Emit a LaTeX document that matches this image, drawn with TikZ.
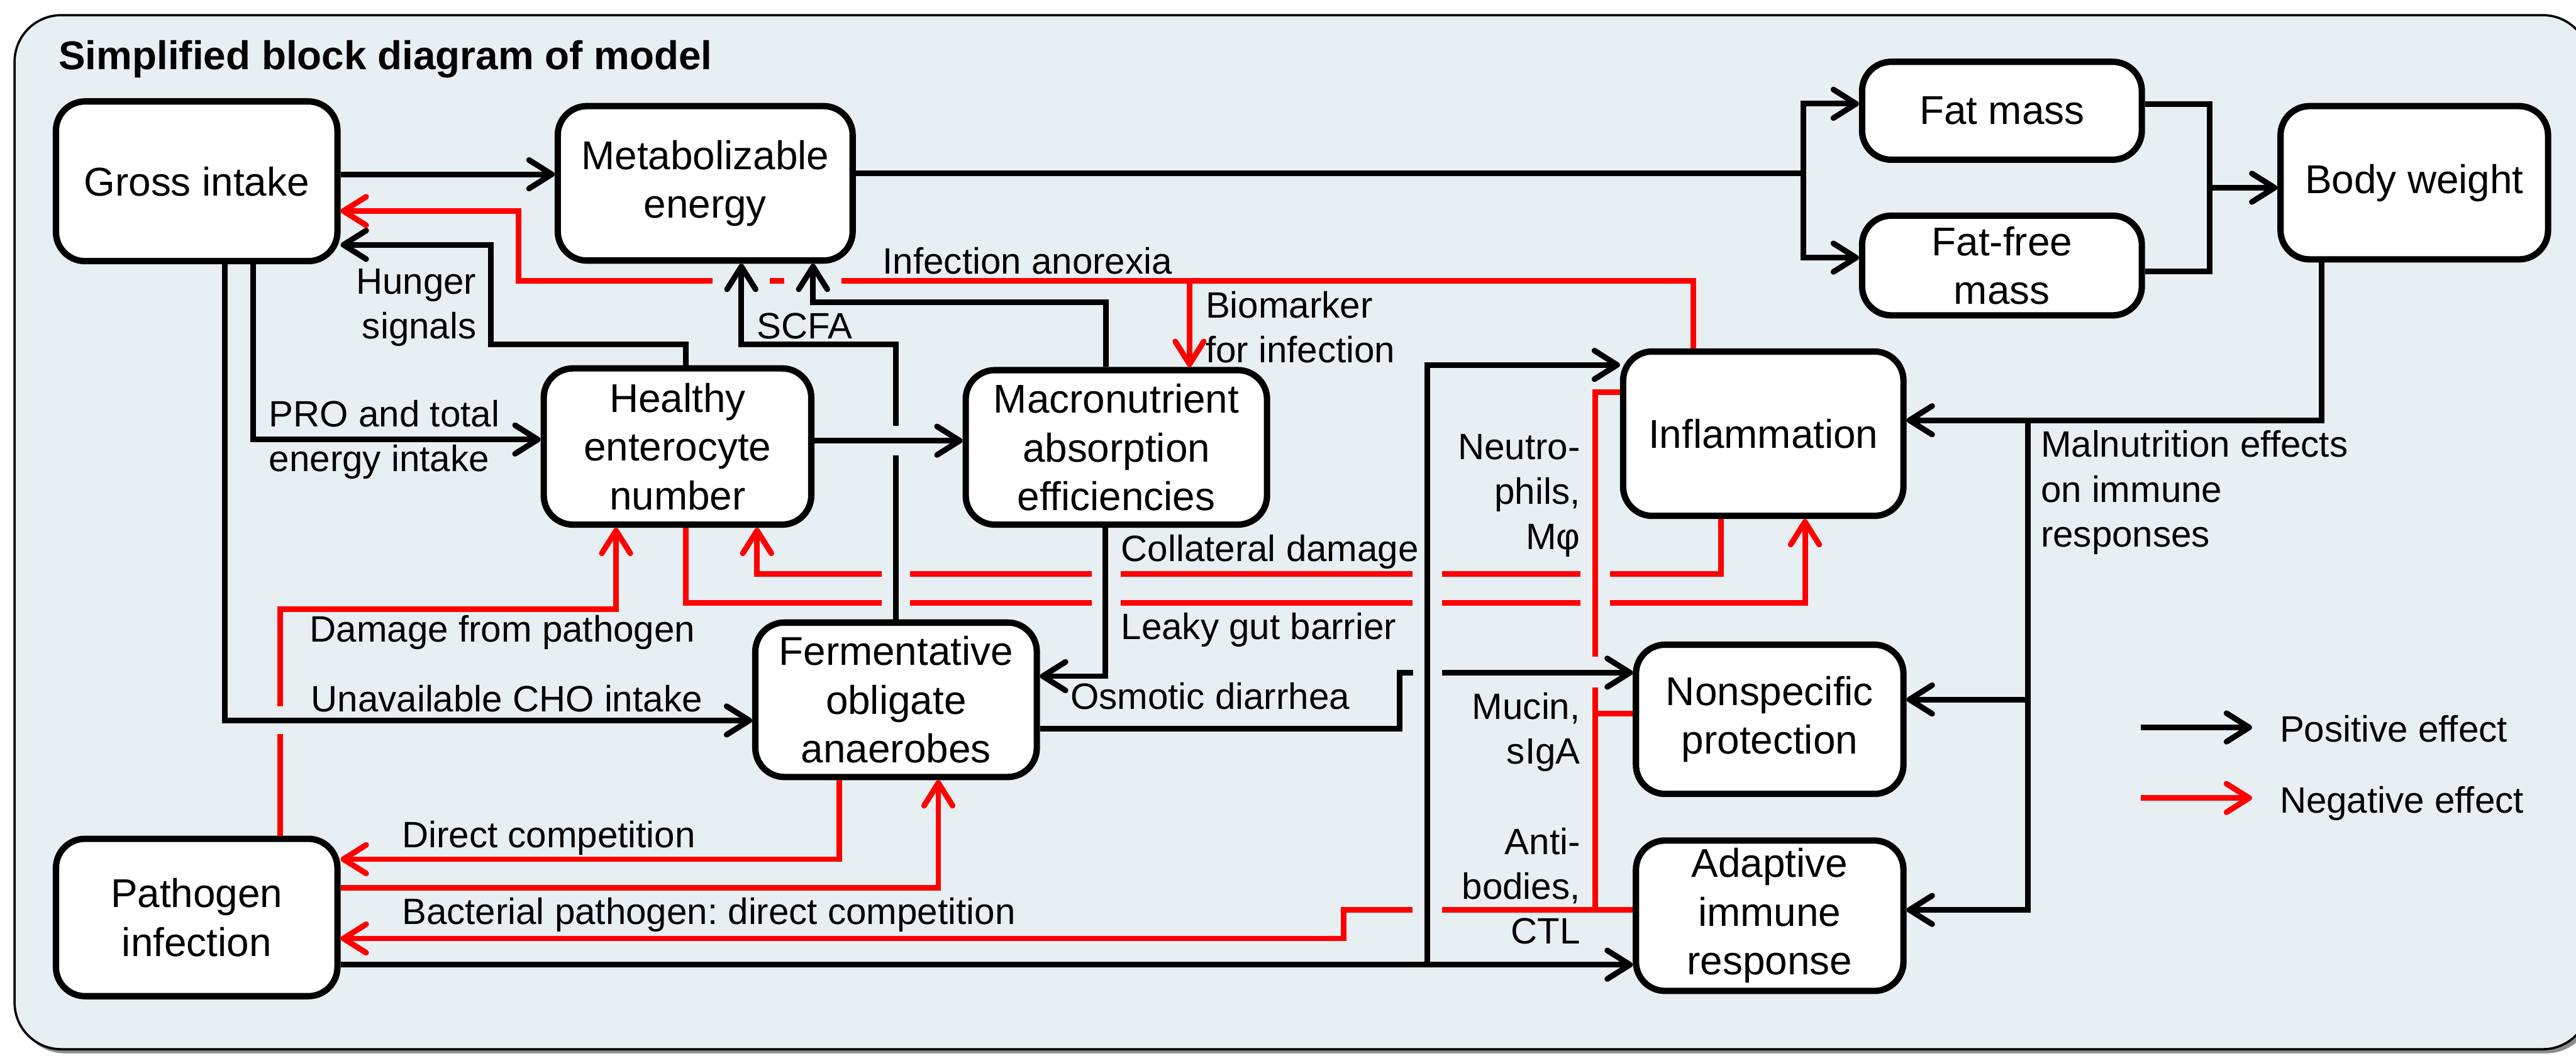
\documentclass[tikz,border=0pt]{standalone}
\usepackage{fontspec}
\setmainfont{Liberation Sans}
\usetikzlibrary{arrows.meta,positioning,calc}
\definecolor{PanelFill}{HTML}{E7EFF2}
\definecolor{NegRed}{HTML}{FF0000}
\frenchspacing

\begin{document}
\begin{tikzpicture}[x=1cm,y=-1cm,
  block/.style={draw,line width=3.1pt,rounded corners=5mm,fill=white,align=center,
    inner sep=0pt,font=\fontsize{19.6}{23.8}\selectfont},
  lbl/.style={inner sep=0pt,font=\fontsize{17.9}{21.9}\selectfont},
  posline/.style={line width=2.75pt},
  posarrow/.style={posline,-{Straight Barb[length=3.9mm,width=4.9mm,round]}},
  negline/.style={posline,NegRed},
  negarrow/.style={posarrow,NegRed}]
  \useasboundingbox (0,0) rectangle (44.20,18.23);

  % panel
  \fill[black!45,rounded corners=8mm] (0.31,0.33) rectangle (44.49,18.07);
  \draw[fill=PanelFill,line width=1.1pt,rounded corners=8mm] (0.25,0.26) rectangle (44.43,18.00);
  \node[anchor=base west,inner sep=0pt,font=\bfseries\fontsize{19.6}{23.8}\selectfont] (title)
    at (1.00,1.19) {Simplified block diagram of model};

  % blocks
  \node[block,minimum width=4.83cm,minimum height=2.74cm] (gross) at (3.375,3.11) {Gross intake};
  \node[block,minimum width=5.06cm,minimum height=2.65cm] (metab) at (12.10,3.145) {Metabolizable\\energy};
  \node[block,minimum width=4.80cm,minimum height=1.68cm] (fat) at (34.35,1.90) {Fat mass};
  \node[block,minimum width=4.80cm,minimum height=1.71cm] (fatfree) at (34.35,4.555) {Fat-free\\mass};
  \node[block,minimum width=4.59cm,minimum height=2.63cm] (body) at (41.425,3.135) {Body weight};
  \node[block,minimum width=4.59cm,minimum height=2.68cm] (healthy) at (11.625,7.66) {Healthy\\enterocyte\\number};
  \node[block,minimum width=5.17cm,minimum height=2.65cm] (macro) at (19.155,7.675) {Macronutrient\\absorption\\efficiencies};
  \node[block,minimum width=4.83cm,minimum height=2.65cm] (ferm) at (15.375,12.005) {Fermentative\\obligate\\anaerobes};
  \node[block,minimum width=4.83cm,minimum height=2.70cm] (path) at (3.375,15.74) {Pathogen\\infection};
  \node[block,minimum width=4.81cm,minimum height=2.82cm] (infl) at (30.255,7.44) {Inflammation};
  \node[block,minimum width=4.59cm,minimum height=2.56cm] (nonspec) at (30.365,12.34) {Nonspecific\\protection};
  \node[block,minimum width=4.59cm,minimum height=2.58cm] (adapt) at (30.365,15.71) {Adaptive\\immune\\response};

  % branch points
  \coordinate (split) at (30.94,2.97);
  \coordinate (merge) at (37.91,3.22);
  \coordinate (immbus) at (34.80,7.21);
  \coordinate (pbranch) at (24.49,16.55);
  \coordinate (biomark) at (20.41,4.82);

  % positive effects
  \draw[posarrow] (gross.east |- 0,2.99) -- (metab.west |- 0,2.99);
  \draw[posarrow] (metab.east |- split) -- (split) |- (fat.west |- 0,1.78);
  \draw[posarrow] (split) |- (fatfree.west |- 0,4.42);
  \draw[posline] (fat.east |- 0,1.79) -| (merge);
  \draw[posline] (fatfree.east |- 0,4.66) -| (merge);
  \draw[posarrow] (merge) -- (body.west |- merge);
  \draw[posarrow] (body.south -| 39.83,0) |- (infl.east |- immbus);
  \draw[posarrow] (immbus) |- (nonspec.east |- 0,12.00);
  \draw[posarrow] (immbus) |- (adapt.east |- 0,15.61);
  \draw[posarrow] (healthy.north -| 11.77,0) |- (8.42,5.91) |- (gross.east |- 0,4.20);
  \draw[posarrow] (ferm.north -| 15.37,0) -- (15.37,7.81) (15.37,7.31) |- (12.72,5.91)
    -- (metab.south -| 12.72,0);
  \draw[posarrow] (macro.north -| 18.98,0) |- (13.95,5.18) -- (metab.south -| 13.95,0);
  \draw[posarrow] (healthy.east |- 0,7.56) -- (macro.west |- 0,7.56);
  \draw[posarrow] (gross.south -| 4.34,0) |- (healthy.west |- 0,7.54);
  \draw[posarrow] (gross.south -| 3.86,0) |- (ferm.west |- 0,12.36);
  \draw[posarrow] (macro.south -| 18.97,0) |- (ferm.east |- 0,11.60);
  \draw[posarrow] (ferm.east |- 0,12.50) -| (24.01,11.54) -- (24.25,11.54)
    (24.74,11.54) -- (nonspec.west |- 0,11.54);
  \draw[posarrow] (path.east |- pbranch) -- (adapt.west |- pbranch);
  \draw[posarrow] (pbranch) |- (infl.west |- 0,6.26);

  % negative effects
  \draw[negarrow] (infl.north -| 29.05,0) |- (14.44,4.82) (13.46,4.82) -- (13.21,4.82)
    (12.23,4.82) -| (8.90,3.62) -- (gross.east |- 0,3.62);
  \draw[negarrow] (biomark) -- (macro.north -| biomark);
  \draw[negarrow] (infl.south -| 29.53,0) |- (27.62,9.85) (27.12,9.85) -- (24.74,9.85)
    (24.24,9.85) -- (19.23,9.85) (18.73,9.85) -- (15.61,9.85)
    (15.13,9.85) -| (healthy.south -| 12.99,0);
  \draw[negarrow] (healthy.south -| 11.77,0) |- (15.13,10.34) (15.61,10.34) -- (18.73,10.34)
    (19.23,10.34) -- (24.24,10.34) (24.74,10.34) -- (27.12,10.34)
    (27.62,10.34) -| (infl.south -| 30.97,0);
  \draw[negarrow] (path.north -| 4.81,0) -- (4.81,12.59) (4.81,12.12) |- (10.57,10.45)
    -- (healthy.south -| 10.57,0);
  \draw[negarrow] (ferm.south -| 14.40,0) |- (path.east |- 0,14.74);
  \draw[negarrow] (path.east |- 0,15.23) -| (ferm.south -| 16.10,0);
  \draw[negarrow] (adapt.west |- 0,15.61) -- (24.74,15.61) (24.24,15.61) -| (23.05,16.10)
    -- (path.east |- 0,16.10);
  \draw[negline] (infl.west |- 0,6.73) -| (27.37,11.27) (27.37,11.79) -- (27.37,15.61);
  \draw[negline] (nonspec.west |- 0,12.24) -- (27.37,12.24);

  % labels
  \node[lbl,align=right,anchor=east] (hungerlbl) at (8.18,5.28) {Hunger\\signals};
  \node[lbl,anchor=west] (scfalbl) at (12.98,5.59) {SCFA};
  \node[lbl,anchor=west] (anorexlbl) at (15.14,4.475) {Infection anorexia};
  \node[lbl,align=left,anchor=west] (biolbl) at (20.68,5.61) {Biomarker\\for infection};
  \node[lbl,align=left,anchor=west] (prolbl) at (4.61,7.54) {PRO and total\\energy intake};
  \node[lbl,anchor=west] (damagelbl) at (5.31,10.85) {Damage from pathogen};
  \node[lbl,anchor=west] (cholbl) at (5.33,11.98) {Unavailable CHO intake};
  \node[lbl,anchor=west] (directlbl) at (6.89,14.38) {Direct competition};
  \node[lbl,anchor=west] (bactlbl) at (6.89,15.69) {Bacterial pathogen: direct competition};
  \node[lbl,anchor=west] (collatlbl) at (19.23,9.47) {Collateral damage};
  \node[lbl,anchor=west] (leakylbl) at (19.23,10.81) {Leaky gut barrier};
  \node[lbl,anchor=west] (osmolbl) at (18.36,11.94) {Osmotic diarrhea};
  \node[lbl,align=right,anchor=east] (neutrolbl) at (27.12,8.50) {Neutro-\\phils,\\Mφ};
  \node[lbl,align=right,anchor=east] (mucinlbl) at (27.12,12.56) {Mucin,\\sIgA};
  \node[lbl,align=right,anchor=east] (antilbl) at (27.12,15.20) {Anti-\\bodies,\\CTL};
  \node[lbl,align=left,anchor=west] (malnutlbl) at (35.01,8.45) {Malnutrition effects\\on immune\\responses};

  % legend
  \node[lbl,anchor=west] (poslbl) at (39.11,12.50) {Positive effect};
  \node[lbl,anchor=west] (neglbl) at (39.11,13.78) {Negative effect};
  \coordinate (posstart) at (36.73,12.48);
  \coordinate (negstart) at (36.73,13.69);
  \draw[posarrow] (posstart) -- ([xshift=-4.7mm]posstart -| poslbl.west);
  \draw[negarrow] (negstart) -- ([xshift=-4.7mm]negstart -| neglbl.west);
\end{tikzpicture}
\end{document}
